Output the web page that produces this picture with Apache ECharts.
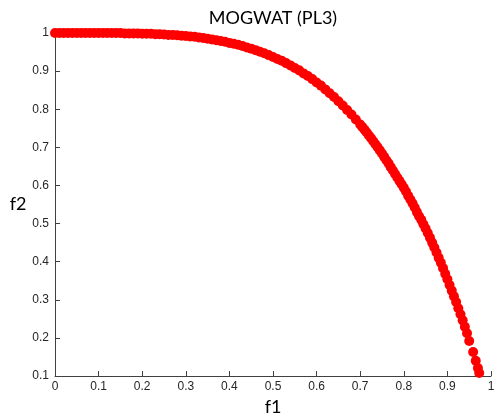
<!DOCTYPE html>
<html>
<head>
<meta charset="utf-8">
<script src="https://cdn.jsdelivr.net/npm/echarts@6/dist/echarts.min.js"></script>
<style>html,body{margin:0;padding:0;background:#fff;}#c{width:497px;height:414px;}</style>
</head>
<body>
<div id="c"></div>
<script>
var f1 = [0,0.01,0.02,0.03,0.04,0.05,0.06,0.07,0.08,0.09,0.10,0.11,0.12,0.13,0.14,0.15,0.16,0.17,0.18,0.19,
  0.20,0.21,0.22,0.23,0.24,0.25,0.26,0.27,0.28,0.29,0.30,0.31,0.32,0.33,0.34,0.35,0.36,0.37,0.38,0.39,
  0.40,0.41,0.42,0.43,0.44,0.45,0.46,0.47,0.48,0.49,0.50,0.51,0.52,0.53,0.54,0.55,0.56,0.57,0.58,0.59,
  0.60,0.61,0.62,0.63,0.64,0.65,0.66,0.67,0.68,0.69,0.70,0.705,0.71,0.715,0.72,0.725,0.73,0.735,0.74,0.745,
  0.75,0.755,0.76,0.765,0.77,0.775,0.78,0.785,0.79,0.795,0.80,0.805,0.81,0.815,0.82,0.825,0.83,0.835,0.84,0.845,
  0.85,0.855,0.86,0.865,0.87,0.875,0.88,0.885,0.89,0.895,0.90,0.905,0.91,0.915,0.92,0.925,0.93,0.935,0.94,0.945,
  0.95,0.959,0.965,0.97,0.973];
var f2 = [1,1,1,1,1,1,1,1,1,1,1,1,1,1,1,1,0.999,0.999,0.999,0.999,
  0.998,0.998,0.998,0.997,0.997,0.996,0.995,0.995,0.994,0.993,0.992,0.991,0.990,0.988,0.987,0.985,0.983,0.981,0.979,0.977,
  0.974,0.972,0.969,0.966,0.962,0.959,0.955,0.951,0.947,0.942,0.937,0.932,0.927,0.921,0.915,0.908,0.902,0.894,0.887,0.879,
  0.870,0.862,0.852,0.842,0.832,0.821,0.810,0.798,0.786,0.773,0.760,0.753,0.746,0.739,0.731,0.724,0.716,0.708,0.700,0.692,
  0.684,0.675,0.666,0.658,0.648,0.639,0.630,0.621,0.612,0.603,0.594,0.584,0.573,0.563,0.553,0.542,0.530,0.519,0.510,0.498,
  0.487,0.475,0.463,0.450,0.437,0.424,0.410,0.397,0.383,0.368,0.354,0.339,0.324,0.309,0.294,0.278,0.262,0.246,0.229,0.212,
  0.192,0.163,0.140,0.121,0.108];
var xTicks = ['0','0.1','0.2','0.3','0.4','0.5','0.6','0.7','0.8','0.9','1'];
var yTicks = ['0.1','0.2','0.3','0.4','0.5','0.6','0.7','0.8','0.9','1'];

var data = f1.map(function(v,i){return [v,f2[i]];});
var chart = echarts.init(document.getElementById('c'));
var axisColor = '#404040';
var labelStyle = {color:'#262626', fontFamily:'Liberation Sans, Arial, sans-serif', fontSize:12};
chart.setOption({
  animation:false,
  title:{text:'MOGWAT (PL3)', left:268, top:4, textAlign:'center',
    textStyle:{fontFamily:'Lato, Open Sans, sans-serif', fontWeight:'normal', fontSize:18, color:'#000'}},
  grid:{left:55, right:6, top:33, bottom:38, outerBoundsMode:'none', containLabel:false},
  xAxis:{type:'value', min:0, max:1, interval:0.1,
    name:'f1', nameLocation:'middle', nameGap:19,
    nameTextStyle:{fontFamily:'Lato, Open Sans, sans-serif', fontSize:18, color:'#000'},
    axisLine:{lineStyle:{color:axisColor, width:1}},
    axisTick:{inside:true, length:5, lineStyle:{color:axisColor}},
    splitLine:{show:false},
    axisLabel:Object.assign({margin:5, formatter:function(v){return xTicks[Math.round(v*10)];}}, labelStyle)
  },
  yAxis:{type:'value', min:0.1, max:1, interval:0.1,
    name:'f2', nameLocation:'middle', nameGap:24, nameRotate:0,
    nameTextStyle:{fontFamily:'Lato, Open Sans, sans-serif', fontSize:18, color:'#000'},
    axisLine:{show:true, lineStyle:{color:axisColor, width:1}},
    axisTick:{show:true, inside:true, length:5, lineStyle:{color:axisColor}},
    splitLine:{show:false},
    axisLabel:Object.assign({margin:6, formatter:function(v){return yTicks[Math.round(v*10)-1];}}, labelStyle)
  },
  series:[{type:'scatter', data:data, symbol:'circle', symbolSize:10, clip:false,
    itemStyle:{color:'#ff0000', opacity:1}}]
});
</script>
</body>
</html>
